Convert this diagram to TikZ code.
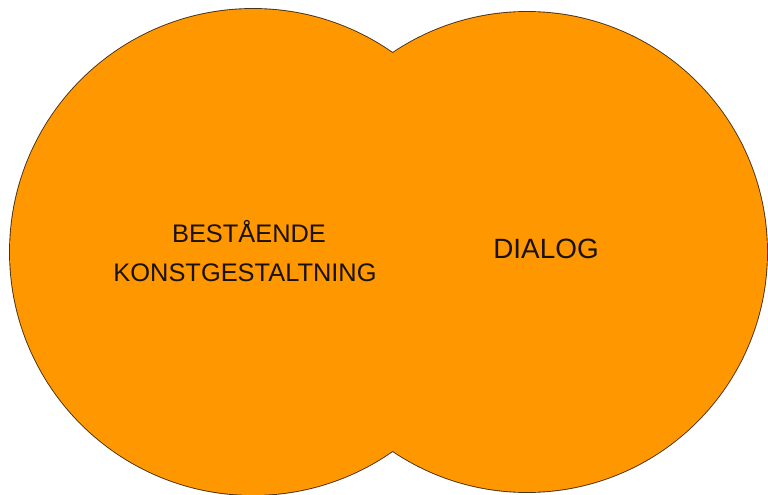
\documentclass[tikz,border=0pt]{standalone}
\usepackage{fontspec}
\setmainfont{Liberation Sans}
\definecolor{vennfill}{HTML}{FF9700}
\definecolor{vennline}{HTML}{4A3015}
\definecolor{vtext}{HTML}{1A1208}
\begin{document}
\begin{tikzpicture}[x=1bp,y=-1bp,
  label text/.style={text=vtext, inner sep=0pt, anchor=base},
  ring/.style={draw=vennline, line width=1.8bp}]
\useasboundingbox (0,0) rectangle (768,495);
\fill[white] (0,0) rectangle (768,495);
\coordinate (cl) at (253,252);
\coordinate (cr) at (527,252);
% outlines first, then fill over them so only the outer boundary stays
\draw[ring] (cl) circle[radius=243];
\draw[ring] (cr) circle[radius=240];
\fill[vennfill] (cl) circle[radius=243];
\fill[vennfill] (cr) circle[radius=240];
\node[label text, font=\fontsize{25.5}{30}\selectfont] (t1) at (249,243) {BESTÅENDE};
\node[label text, font=\fontsize{25.5}{30}\selectfont] (t2) at (245,282) {KONSTGESTALTNING};
\node[label text, font=\fontsize{28}{32}\selectfont] (t3) at (546,259) {DIALOG};
\end{tikzpicture}
\end{document}
